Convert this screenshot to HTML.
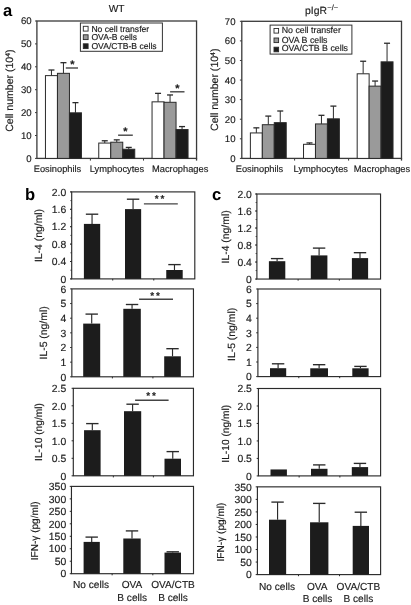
<!DOCTYPE html>
<html lang="en"><head><meta charset="utf-8"><title>Figure</title>
<style>
html,body{margin:0;padding:0;background:#fff;overflow:hidden}
svg{display:block;font-family:"Liberation Sans", Arial, Helvetica, sans-serif;fill:#1c1c1c;text-rendering:geometricPrecision}
text{stroke:#1c1c1c;stroke-width:0.16px;stroke-linejoin:round}
</style></head><body>
<svg width="411" height="605" viewBox="0 0 411 605">
<rect x="0" y="0" width="411" height="605" fill="#fff" stroke="none"/>
<rect x="36.9" y="21" width="159.65" height="137.4" fill="#fff" stroke="#3a3a3a" stroke-width="1.3"/>
<path d="M35 158.4L36.9 158.4" stroke="#3a3a3a" stroke-width="1"/>
<text x="31.6" y="161.85" font-size="9.6" text-anchor="end">0</text>
<path d="M35 135.5L36.9 135.5" stroke="#3a3a3a" stroke-width="1"/>
<text x="31.6" y="138.95" font-size="9.6" text-anchor="end">10</text>
<path d="M35 112.6L36.9 112.6" stroke="#3a3a3a" stroke-width="1"/>
<text x="31.6" y="116.05" font-size="9.6" text-anchor="end">20</text>
<path d="M35 89.7L36.9 89.7" stroke="#3a3a3a" stroke-width="1"/>
<text x="31.6" y="93.15" font-size="9.6" text-anchor="end">30</text>
<path d="M35 66.8L36.9 66.8" stroke="#3a3a3a" stroke-width="1"/>
<text x="31.6" y="70.25" font-size="9.6" text-anchor="end">40</text>
<path d="M35 43.9L36.9 43.9" stroke="#3a3a3a" stroke-width="1"/>
<text x="31.6" y="47.35" font-size="9.6" text-anchor="end">50</text>
<path d="M35 21L36.9 21" stroke="#3a3a3a" stroke-width="1"/>
<text x="31.6" y="24.45" font-size="9.6" text-anchor="end">60</text>
<path d="M90.4 158.4L90.4 160.6" stroke="#3a3a3a" stroke-width="1"/>
<path d="M143.5 158.4L143.5 160.6" stroke="#3a3a3a" stroke-width="1"/>
<path d="M196.55 158.4L196.55 160.6" stroke="#3a3a3a" stroke-width="1.3"/>
<path d="M51.45 70.01L51.45 75.62" stroke="#2a2a2a" stroke-width="1"/>
<path d="M48.45 70.01L54.45 70.01" stroke="#2a2a2a" stroke-width="1.3"/>
<path d="M63.45 62.68L63.45 73.33" stroke="#2a2a2a" stroke-width="1"/>
<path d="M60.45 62.68L66.45 62.68" stroke="#2a2a2a" stroke-width="1.3"/>
<path d="M75.45 102.64L75.45 112.83" stroke="#2a2a2a" stroke-width="1"/>
<path d="M72.45 102.64L78.45 102.64" stroke="#2a2a2a" stroke-width="1.3"/>
<rect x="45.45" y="75.62" width="12" height="82.78" fill="#fff" stroke="#2a2a2a" stroke-width="1"/>
<rect x="57.45" y="73.33" width="12" height="85.07" fill="#9a9a9a" stroke="#2a2a2a" stroke-width="1"/>
<rect x="69.45" y="112.83" width="12" height="45.57" fill="#1c1c1c" stroke="#2a2a2a" stroke-width="1"/>
<path d="M104.75 140.77L104.75 143.06" stroke="#2a2a2a" stroke-width="1"/>
<path d="M101.75 140.77L107.75 140.77" stroke="#2a2a2a" stroke-width="1.3"/>
<path d="M116.75 139.85L116.75 142.21" stroke="#2a2a2a" stroke-width="1"/>
<path d="M113.75 139.85L119.75 139.85" stroke="#2a2a2a" stroke-width="1.3"/>
<path d="M128.75 147.41L128.75 149.24" stroke="#2a2a2a" stroke-width="1"/>
<path d="M125.75 147.41L131.75 147.41" stroke="#2a2a2a" stroke-width="1.3"/>
<rect x="98.75" y="143.06" width="12" height="15.34" fill="#fff" stroke="#2a2a2a" stroke-width="1"/>
<rect x="110.75" y="142.21" width="12" height="16.19" fill="#9a9a9a" stroke="#2a2a2a" stroke-width="1"/>
<rect x="122.75" y="149.24" width="12" height="9.16" fill="#1c1c1c" stroke="#2a2a2a" stroke-width="1"/>
<path d="M158.05 93.36L158.05 101.84" stroke="#2a2a2a" stroke-width="1"/>
<path d="M155.05 93.36L161.05 93.36" stroke="#2a2a2a" stroke-width="1.3"/>
<path d="M170.05 94.97L170.05 102.3" stroke="#2a2a2a" stroke-width="1"/>
<path d="M167.05 94.97L173.05 94.97" stroke="#2a2a2a" stroke-width="1.3"/>
<path d="M182.05 126.57L182.05 129.55" stroke="#2a2a2a" stroke-width="1"/>
<path d="M179.05 126.57L185.05 126.57" stroke="#2a2a2a" stroke-width="1.3"/>
<rect x="152.05" y="101.84" width="12" height="56.56" fill="#fff" stroke="#2a2a2a" stroke-width="1"/>
<rect x="164.05" y="102.3" width="12" height="56.11" fill="#9a9a9a" stroke="#2a2a2a" stroke-width="1"/>
<rect x="176.05" y="129.55" width="12" height="28.85" fill="#1c1c1c" stroke="#2a2a2a" stroke-width="1"/>
<rect x="241.8" y="21.3" width="159.7" height="137.1" fill="#fff" stroke="#3a3a3a" stroke-width="1.3"/>
<path d="M239.9 158.4L241.8 158.4" stroke="#3a3a3a" stroke-width="1"/>
<text x="235.5" y="161.85" font-size="9.6" text-anchor="end">0</text>
<path d="M239.9 138.81L241.8 138.81" stroke="#3a3a3a" stroke-width="1"/>
<text x="235.5" y="142.26" font-size="9.6" text-anchor="end">10</text>
<path d="M239.9 119.23L241.8 119.23" stroke="#3a3a3a" stroke-width="1"/>
<text x="235.5" y="122.68" font-size="9.6" text-anchor="end">20</text>
<path d="M239.9 99.64L241.8 99.64" stroke="#3a3a3a" stroke-width="1"/>
<text x="235.5" y="103.09" font-size="9.6" text-anchor="end">30</text>
<path d="M239.9 80.06L241.8 80.06" stroke="#3a3a3a" stroke-width="1"/>
<text x="235.5" y="83.51" font-size="9.6" text-anchor="end">40</text>
<path d="M239.9 60.47L241.8 60.47" stroke="#3a3a3a" stroke-width="1"/>
<text x="235.5" y="63.92" font-size="9.6" text-anchor="end">50</text>
<path d="M239.9 40.89L241.8 40.89" stroke="#3a3a3a" stroke-width="1"/>
<text x="235.5" y="44.34" font-size="9.6" text-anchor="end">60</text>
<path d="M239.9 21.3L241.8 21.3" stroke="#3a3a3a" stroke-width="1"/>
<text x="235.5" y="24.75" font-size="9.6" text-anchor="end">70</text>
<path d="M294.6 158.4L294.6 160.6" stroke="#3a3a3a" stroke-width="1"/>
<path d="M348.6 158.4L348.6 160.6" stroke="#3a3a3a" stroke-width="1"/>
<path d="M401.5 158.4L401.5 160.6" stroke="#3a3a3a" stroke-width="1.3"/>
<path d="M256.35 127.85L256.35 132.94" stroke="#2a2a2a" stroke-width="1"/>
<path d="M253.35 127.85L259.35 127.85" stroke="#2a2a2a" stroke-width="1.3"/>
<path d="M268.3 116.09L268.3 124.71" stroke="#2a2a2a" stroke-width="1"/>
<path d="M265.3 116.09L271.3 116.09" stroke="#2a2a2a" stroke-width="1.3"/>
<path d="M280.25 111L280.25 122.66" stroke="#2a2a2a" stroke-width="1"/>
<path d="M277.25 111L283.25 111" stroke="#2a2a2a" stroke-width="1.3"/>
<rect x="250.38" y="132.94" width="11.95" height="25.46" fill="#fff" stroke="#2a2a2a" stroke-width="1"/>
<rect x="262.32" y="124.71" width="11.95" height="33.69" fill="#9a9a9a" stroke="#2a2a2a" stroke-width="1"/>
<rect x="274.27" y="122.66" width="11.95" height="35.74" fill="#1c1c1c" stroke="#2a2a2a" stroke-width="1"/>
<path d="M309.5 142.93L309.5 144.3" stroke="#2a2a2a" stroke-width="1"/>
<path d="M306.5 142.93L312.5 142.93" stroke="#2a2a2a" stroke-width="1.3"/>
<path d="M321.45 115.31L321.45 123.93" stroke="#2a2a2a" stroke-width="1"/>
<path d="M318.45 115.31L324.45 115.31" stroke="#2a2a2a" stroke-width="1.3"/>
<path d="M333.4 106.11L333.4 118.84" stroke="#2a2a2a" stroke-width="1"/>
<path d="M330.4 106.11L336.4 106.11" stroke="#2a2a2a" stroke-width="1.3"/>
<rect x="303.52" y="144.3" width="11.95" height="14.1" fill="#fff" stroke="#2a2a2a" stroke-width="1"/>
<rect x="315.47" y="123.93" width="11.95" height="34.47" fill="#9a9a9a" stroke="#2a2a2a" stroke-width="1"/>
<rect x="327.42" y="118.84" width="11.95" height="39.56" fill="#1c1c1c" stroke="#2a2a2a" stroke-width="1"/>
<path d="M363.15 61.25L363.15 73.79" stroke="#2a2a2a" stroke-width="1"/>
<path d="M360.15 61.25L366.15 61.25" stroke="#2a2a2a" stroke-width="1.3"/>
<path d="M375.1 81.04L375.1 86.13" stroke="#2a2a2a" stroke-width="1"/>
<path d="M372.1 81.04L378.1 81.04" stroke="#2a2a2a" stroke-width="1.3"/>
<path d="M387.05 43.24L387.05 61.84" stroke="#2a2a2a" stroke-width="1"/>
<path d="M384.05 43.24L390.05 43.24" stroke="#2a2a2a" stroke-width="1.3"/>
<rect x="357.18" y="73.79" width="11.95" height="84.61" fill="#fff" stroke="#2a2a2a" stroke-width="1"/>
<rect x="369.12" y="86.13" width="11.95" height="72.27" fill="#9a9a9a" stroke="#2a2a2a" stroke-width="1"/>
<rect x="381.07" y="61.84" width="11.95" height="96.56" fill="#1c1c1c" stroke="#2a2a2a" stroke-width="1"/>
<text x="116.65" y="12.3" font-size="10.2" text-anchor="middle">WT</text>
<text x="305" y="14" font-size="10.4">pIgR<tspan dy="-4.0" dx="0.3" font-size="7.5">−/−</tspan></text>
<text x="3" y="15.7" font-size="16.6" font-weight="bold" fill="#000" style="stroke:none">a</text>
<text transform="translate(13.2 90.65) rotate(-90)" font-size="10.55" text-anchor="middle">Cell number (10<tspan dy="-3.6" font-size="6.8">4</tspan><tspan dy="3.6">)</tspan></text>
<text transform="translate(218.3 89.75) rotate(-90)" font-size="10.55" text-anchor="middle">Cell number (10<tspan dy="-3.6" font-size="6.8">4</tspan><tspan dy="3.6">)</tspan></text>
<text x="57.5" y="172.2" font-size="9.3" text-anchor="middle">Eosinophils</text>
<text x="116.9" y="172.2" font-size="9.3" text-anchor="middle">Lymphocytes</text>
<text x="180.2" y="172.2" font-size="9.3" text-anchor="middle">Macrophages</text>
<text x="259.5" y="172.2" font-size="9.3" text-anchor="middle">Eosinophils</text>
<text x="320.8" y="172.2" font-size="9.3" text-anchor="middle">Lymphocytes</text>
<text x="382" y="172.2" font-size="9.3" text-anchor="middle">Macrophages</text>
<rect x="80.4" y="23" width="82" height="28.3" fill="#fff" stroke="#333" stroke-width="1"/>
<rect x="83.3" y="26.3" width="4.8" height="4.8" fill="#fff" stroke="#2a2a2a" stroke-width="0.9"/>
<text x="91.4" y="31.8" font-size="8.6">No cell transfer</text>
<rect x="83.3" y="34.8" width="4.8" height="4.8" fill="#9a9a9a" stroke="#2a2a2a" stroke-width="0.9"/>
<text x="91.4" y="40.3" font-size="8.6">OVA-B cells</text>
<rect x="83.3" y="43.8" width="4.8" height="4.8" fill="#1c1c1c" stroke="#2a2a2a" stroke-width="0.9"/>
<text x="91.4" y="49.3" font-size="8.6">OVA/CTB-B cells</text>
<rect x="270.1" y="25.1" width="81.8" height="29" fill="#fff" stroke="#333" stroke-width="1"/>
<rect x="274" y="28.5" width="4.6" height="4.6" fill="#fff" stroke="#2a2a2a" stroke-width="0.9"/>
<text x="281.7" y="32.9" font-size="8.8">No cell transfer</text>
<rect x="274" y="38" width="4.6" height="4.6" fill="#9a9a9a" stroke="#2a2a2a" stroke-width="0.9"/>
<text x="281.7" y="42.5" font-size="8.8">OVA B cells</text>
<rect x="274" y="47.2" width="4.6" height="4.6" fill="#1c1c1c" stroke="#2a2a2a" stroke-width="0.9"/>
<text x="281.7" y="51.4" font-size="8.8">OVA/CTB B cells</text>
<path d="M65.8 68L78 68" stroke="#444" stroke-width="1.4"/>
<text x="72.3" y="67.6" font-size="11" text-anchor="middle" font-weight="bold">*</text>
<path d="M118.1 135.2L132.8 135.2" stroke="#444" stroke-width="1.4"/>
<text x="125.3" y="135" font-size="11" text-anchor="middle" font-weight="bold">*</text>
<path d="M170.1 91.8L184.5 91.8" stroke="#444" stroke-width="1.4"/>
<text x="177.3" y="91.9" font-size="11" text-anchor="middle" font-weight="bold">*</text>
<rect x="71.7" y="191.9" width="123.1" height="87" fill="#fff" stroke="#2a2a2a" stroke-width="1.15"/>
<path d="M70 278.9L71.7 278.9" stroke="#2a2a2a" stroke-width="1"/>
<text x="66.2" y="282.6" font-size="10.4" text-anchor="end">0</text>
<path d="M70 261.5L71.7 261.5" stroke="#2a2a2a" stroke-width="1"/>
<text x="66.2" y="265.2" font-size="10.4" text-anchor="end">0.4</text>
<path d="M70 244.1L71.7 244.1" stroke="#2a2a2a" stroke-width="1"/>
<text x="66.2" y="247.8" font-size="10.4" text-anchor="end">0.8</text>
<path d="M70 226.7L71.7 226.7" stroke="#2a2a2a" stroke-width="1"/>
<text x="66.2" y="230.4" font-size="10.4" text-anchor="end">1.2</text>
<path d="M70 209.3L71.7 209.3" stroke="#2a2a2a" stroke-width="1"/>
<text x="66.2" y="213" font-size="10.4" text-anchor="end">1.6</text>
<path d="M70 191.9L71.7 191.9" stroke="#2a2a2a" stroke-width="1"/>
<text x="66.2" y="195.6" font-size="10.4" text-anchor="end">2.0</text>
<path d="M70.4 278.9L71.7 278.9" stroke="#2a2a2a" stroke-width="0.8"/>
<path d="M70.4 270.2L71.7 270.2" stroke="#2a2a2a" stroke-width="0.8"/>
<path d="M70.4 261.5L71.7 261.5" stroke="#2a2a2a" stroke-width="0.8"/>
<path d="M70.4 252.8L71.7 252.8" stroke="#2a2a2a" stroke-width="0.8"/>
<path d="M70.4 244.1L71.7 244.1" stroke="#2a2a2a" stroke-width="0.8"/>
<path d="M70.4 235.4L71.7 235.4" stroke="#2a2a2a" stroke-width="0.8"/>
<path d="M70.4 226.7L71.7 226.7" stroke="#2a2a2a" stroke-width="0.8"/>
<path d="M70.4 218L71.7 218" stroke="#2a2a2a" stroke-width="0.8"/>
<path d="M70.4 209.3L71.7 209.3" stroke="#2a2a2a" stroke-width="0.8"/>
<path d="M70.4 200.6L71.7 200.6" stroke="#2a2a2a" stroke-width="0.8"/>
<path d="M70.4 191.9L71.7 191.9" stroke="#2a2a2a" stroke-width="0.8"/>
<path d="M112.73 278.9L112.73 280.5" stroke="#2a2a2a" stroke-width="1"/>
<path d="M153.77 278.9L153.77 280.5" stroke="#2a2a2a" stroke-width="1"/>
<path d="M92.05 214.2L92.05 223.9" stroke="#2a2a2a" stroke-width="1.15"/>
<path d="M85.85 214.2L98.25 214.2" stroke="#2a2a2a" stroke-width="1.35"/>
<rect x="83.9" y="223.9" width="16.3" height="55" fill="#1c1c1c"/>
<path d="M133.07 199.2L133.07 209.1" stroke="#2a2a2a" stroke-width="1.15"/>
<path d="M126.87 199.2L139.27 199.2" stroke="#2a2a2a" stroke-width="1.35"/>
<rect x="125" y="209.1" width="16.15" height="69.8" fill="#1c1c1c"/>
<path d="M174.47 264.6L174.47 270" stroke="#2a2a2a" stroke-width="1.15"/>
<path d="M168.28 264.6L180.67 264.6" stroke="#2a2a2a" stroke-width="1.35"/>
<rect x="166.25" y="270" width="16.45" height="8.9" fill="#1c1c1c"/>
<text transform="translate(42.3 235.5) rotate(-90)" font-size="10.4" text-anchor="middle">IL-4 (ng/ml)</text>
<rect x="71.85" y="288.9" width="121.6" height="87.9" fill="#fff" stroke="#2a2a2a" stroke-width="1.15"/>
<path d="M70.15 376.8L71.85 376.8" stroke="#2a2a2a" stroke-width="1"/>
<text x="66.2" y="380.5" font-size="10.4" text-anchor="end">0</text>
<path d="M70.15 362.15L71.85 362.15" stroke="#2a2a2a" stroke-width="1"/>
<text x="66.2" y="365.85" font-size="10.4" text-anchor="end">1</text>
<path d="M70.15 347.5L71.85 347.5" stroke="#2a2a2a" stroke-width="1"/>
<text x="66.2" y="351.2" font-size="10.4" text-anchor="end">2</text>
<path d="M70.15 332.85L71.85 332.85" stroke="#2a2a2a" stroke-width="1"/>
<text x="66.2" y="336.55" font-size="10.4" text-anchor="end">3</text>
<path d="M70.15 318.2L71.85 318.2" stroke="#2a2a2a" stroke-width="1"/>
<text x="66.2" y="321.9" font-size="10.4" text-anchor="end">4</text>
<path d="M70.15 303.55L71.85 303.55" stroke="#2a2a2a" stroke-width="1"/>
<text x="66.2" y="307.25" font-size="10.4" text-anchor="end">5</text>
<path d="M70.15 288.9L71.85 288.9" stroke="#2a2a2a" stroke-width="1"/>
<text x="66.2" y="292.6" font-size="10.4" text-anchor="end">6</text>
<path d="M112.38 376.8L112.38 378.4" stroke="#2a2a2a" stroke-width="1"/>
<path d="M152.92 376.8L152.92 378.4" stroke="#2a2a2a" stroke-width="1"/>
<path d="M91.7 314.1L91.7 323.6" stroke="#2a2a2a" stroke-width="1.15"/>
<path d="M85.5 314.1L97.9 314.1" stroke="#2a2a2a" stroke-width="1.35"/>
<rect x="83.2" y="323.6" width="17" height="53.2" fill="#1c1c1c"/>
<path d="M132.05 304.5L132.05 308.8" stroke="#2a2a2a" stroke-width="1.15"/>
<path d="M125.85 304.5L138.25 304.5" stroke="#2a2a2a" stroke-width="1.35"/>
<rect x="123.3" y="308.8" width="17.5" height="68" fill="#1c1c1c"/>
<path d="M172.52 348.7L172.52 356.3" stroke="#2a2a2a" stroke-width="1.15"/>
<path d="M166.32 348.7L178.72 348.7" stroke="#2a2a2a" stroke-width="1.35"/>
<rect x="164.2" y="356.3" width="16.65" height="20.5" fill="#1c1c1c"/>
<text transform="translate(47.3 332.9) rotate(-90)" font-size="10.4" text-anchor="middle">IL-5 (ng/ml)</text>
<rect x="73.3" y="388.3" width="120.15" height="87.5" fill="#fff" stroke="#2a2a2a" stroke-width="1.15"/>
<path d="M71.6 475.8L73.3 475.8" stroke="#2a2a2a" stroke-width="1"/>
<text x="66.2" y="479.5" font-size="10.4" text-anchor="end">0</text>
<path d="M71.6 458.3L73.3 458.3" stroke="#2a2a2a" stroke-width="1"/>
<text x="66.2" y="462" font-size="10.4" text-anchor="end">0.5</text>
<path d="M71.6 440.8L73.3 440.8" stroke="#2a2a2a" stroke-width="1"/>
<text x="66.2" y="444.5" font-size="10.4" text-anchor="end">1.0</text>
<path d="M71.6 423.3L73.3 423.3" stroke="#2a2a2a" stroke-width="1"/>
<text x="66.2" y="427" font-size="10.4" text-anchor="end">1.5</text>
<path d="M71.6 405.8L73.3 405.8" stroke="#2a2a2a" stroke-width="1"/>
<text x="66.2" y="409.5" font-size="10.4" text-anchor="end">2.0</text>
<path d="M71.6 388.3L73.3 388.3" stroke="#2a2a2a" stroke-width="1"/>
<text x="66.2" y="392" font-size="10.4" text-anchor="end">2.5</text>
<path d="M113.35 475.8L113.35 477.4" stroke="#2a2a2a" stroke-width="1"/>
<path d="M153.4 475.8L153.4 477.4" stroke="#2a2a2a" stroke-width="1"/>
<path d="M92.32 423.6L92.32 430.2" stroke="#2a2a2a" stroke-width="1.15"/>
<path d="M86.12 423.6L98.52 423.6" stroke="#2a2a2a" stroke-width="1.35"/>
<rect x="84.05" y="430.2" width="16.55" height="45.6" fill="#1c1c1c"/>
<path d="M132.6 404.2L132.6 411.2" stroke="#2a2a2a" stroke-width="1.15"/>
<path d="M126.4 404.2L138.8 404.2" stroke="#2a2a2a" stroke-width="1.35"/>
<rect x="124" y="411.2" width="17.2" height="64.6" fill="#1c1c1c"/>
<path d="M172.75 451.6L172.75 458.7" stroke="#2a2a2a" stroke-width="1.15"/>
<path d="M166.55 451.6L178.95 451.6" stroke="#2a2a2a" stroke-width="1.35"/>
<rect x="164.5" y="458.7" width="16.5" height="17.1" fill="#1c1c1c"/>
<text transform="translate(41.7 432) rotate(-90)" font-size="10.2" text-anchor="middle">IL-10 (ng/ml)</text>
<rect x="71.45" y="486.4" width="122.05" height="87.3" fill="#fff" stroke="#2a2a2a" stroke-width="1.15"/>
<path d="M69.75 573.7L71.45 573.7" stroke="#2a2a2a" stroke-width="1"/>
<text x="66.2" y="577.4" font-size="10.4" text-anchor="end">0</text>
<path d="M69.75 561.23L71.45 561.23" stroke="#2a2a2a" stroke-width="1"/>
<text x="66.2" y="564.93" font-size="10.4" text-anchor="end">50</text>
<path d="M69.75 548.76L71.45 548.76" stroke="#2a2a2a" stroke-width="1"/>
<text x="66.2" y="552.46" font-size="10.4" text-anchor="end">100</text>
<path d="M69.75 536.29L71.45 536.29" stroke="#2a2a2a" stroke-width="1"/>
<text x="66.2" y="539.99" font-size="10.4" text-anchor="end">150</text>
<path d="M69.75 523.81L71.45 523.81" stroke="#2a2a2a" stroke-width="1"/>
<text x="66.2" y="527.51" font-size="10.4" text-anchor="end">200</text>
<path d="M69.75 511.34L71.45 511.34" stroke="#2a2a2a" stroke-width="1"/>
<text x="66.2" y="515.04" font-size="10.4" text-anchor="end">250</text>
<path d="M69.75 498.87L71.45 498.87" stroke="#2a2a2a" stroke-width="1"/>
<text x="66.2" y="502.57" font-size="10.4" text-anchor="end">300</text>
<path d="M69.75 486.4L71.45 486.4" stroke="#2a2a2a" stroke-width="1"/>
<text x="66.2" y="490.1" font-size="10.4" text-anchor="end">350</text>
<path d="M112.13 573.7L112.13 575.3" stroke="#2a2a2a" stroke-width="1"/>
<path d="M152.82 573.7L152.82 575.3" stroke="#2a2a2a" stroke-width="1"/>
<path d="M91.7 537.1L91.7 541.9" stroke="#2a2a2a" stroke-width="1.15"/>
<path d="M85.5 537.1L97.9 537.1" stroke="#2a2a2a" stroke-width="1.35"/>
<rect x="83.6" y="541.9" width="16.2" height="31.8" fill="#1c1c1c"/>
<path d="M132 530.9L132 538.5" stroke="#2a2a2a" stroke-width="1.15"/>
<path d="M125.8 530.9L138.2 530.9" stroke="#2a2a2a" stroke-width="1.35"/>
<rect x="123.3" y="538.5" width="17.4" height="35.2" fill="#1c1c1c"/>
<path d="M172.75 551.8L172.75 552.6" stroke="#2a2a2a" stroke-width="1.15"/>
<path d="M166.55 551.8L178.95 551.8" stroke="#2a2a2a" stroke-width="1.35"/>
<rect x="164.5" y="552.6" width="16.5" height="21.1" fill="#1c1c1c"/>
<text transform="translate(38 530.9) rotate(-90)" font-size="10.1" text-anchor="middle">IFN-γ (pg/ml)</text>
<rect x="256.9" y="194" width="123.65" height="85.05" fill="#fff" stroke="#2a2a2a" stroke-width="1.15"/>
<path d="M255.2 279.05L256.9 279.05" stroke="#2a2a2a" stroke-width="1"/>
<text x="251.9" y="282.75" font-size="10.4" text-anchor="end">0</text>
<path d="M255.2 262.04L256.9 262.04" stroke="#2a2a2a" stroke-width="1"/>
<text x="251.9" y="265.74" font-size="10.4" text-anchor="end">0.4</text>
<path d="M255.2 245.03L256.9 245.03" stroke="#2a2a2a" stroke-width="1"/>
<text x="251.9" y="248.73" font-size="10.4" text-anchor="end">0.8</text>
<path d="M255.2 228.02L256.9 228.02" stroke="#2a2a2a" stroke-width="1"/>
<text x="251.9" y="231.72" font-size="10.4" text-anchor="end">1.2</text>
<path d="M255.2 211.01L256.9 211.01" stroke="#2a2a2a" stroke-width="1"/>
<text x="251.9" y="214.71" font-size="10.4" text-anchor="end">1.6</text>
<path d="M255.2 194L256.9 194" stroke="#2a2a2a" stroke-width="1"/>
<text x="251.9" y="197.7" font-size="10.4" text-anchor="end">2.0</text>
<path d="M255.6 279.05L256.9 279.05" stroke="#2a2a2a" stroke-width="0.8"/>
<path d="M255.6 270.55L256.9 270.55" stroke="#2a2a2a" stroke-width="0.8"/>
<path d="M255.6 262.04L256.9 262.04" stroke="#2a2a2a" stroke-width="0.8"/>
<path d="M255.6 253.53L256.9 253.53" stroke="#2a2a2a" stroke-width="0.8"/>
<path d="M255.6 245.03L256.9 245.03" stroke="#2a2a2a" stroke-width="0.8"/>
<path d="M255.6 236.53L256.9 236.53" stroke="#2a2a2a" stroke-width="0.8"/>
<path d="M255.6 228.02L256.9 228.02" stroke="#2a2a2a" stroke-width="0.8"/>
<path d="M255.6 219.51L256.9 219.51" stroke="#2a2a2a" stroke-width="0.8"/>
<path d="M255.6 211.01L256.9 211.01" stroke="#2a2a2a" stroke-width="0.8"/>
<path d="M255.6 202.5L256.9 202.5" stroke="#2a2a2a" stroke-width="0.8"/>
<path d="M255.6 194L256.9 194" stroke="#2a2a2a" stroke-width="0.8"/>
<path d="M298.12 279.05L298.12 280.65" stroke="#2a2a2a" stroke-width="1"/>
<path d="M339.33 279.05L339.33 280.65" stroke="#2a2a2a" stroke-width="1"/>
<path d="M277.1 258.6L277.1 261.2" stroke="#2a2a2a" stroke-width="1.15"/>
<path d="M270.9 258.6L283.3 258.6" stroke="#2a2a2a" stroke-width="1.35"/>
<rect x="268.9" y="261.2" width="16.4" height="17.85" fill="#1c1c1c"/>
<path d="M319.1 248.1L319.1 255.4" stroke="#2a2a2a" stroke-width="1.15"/>
<path d="M312.9 248.1L325.3 248.1" stroke="#2a2a2a" stroke-width="1.35"/>
<rect x="310.8" y="255.4" width="16.6" height="23.65" fill="#1c1c1c"/>
<path d="M360 252.7L360 258.1" stroke="#2a2a2a" stroke-width="1.15"/>
<path d="M353.8 252.7L366.2 252.7" stroke="#2a2a2a" stroke-width="1.35"/>
<rect x="351.9" y="258.1" width="16.2" height="20.95" fill="#1c1c1c"/>
<text transform="translate(229.3 236.9) rotate(-90)" font-size="10.4" text-anchor="middle">IL-4 (ng/ml)</text>
<rect x="257.9" y="289" width="122.7" height="87.6" fill="#fff" stroke="#2a2a2a" stroke-width="1.15"/>
<path d="M256.2 376.6L257.9 376.6" stroke="#2a2a2a" stroke-width="1"/>
<text x="251.9" y="380.3" font-size="10.4" text-anchor="end">0</text>
<path d="M256.2 362L257.9 362" stroke="#2a2a2a" stroke-width="1"/>
<text x="251.9" y="365.7" font-size="10.4" text-anchor="end">1</text>
<path d="M256.2 347.4L257.9 347.4" stroke="#2a2a2a" stroke-width="1"/>
<text x="251.9" y="351.1" font-size="10.4" text-anchor="end">2</text>
<path d="M256.2 332.8L257.9 332.8" stroke="#2a2a2a" stroke-width="1"/>
<text x="251.9" y="336.5" font-size="10.4" text-anchor="end">3</text>
<path d="M256.2 318.2L257.9 318.2" stroke="#2a2a2a" stroke-width="1"/>
<text x="251.9" y="321.9" font-size="10.4" text-anchor="end">4</text>
<path d="M256.2 303.6L257.9 303.6" stroke="#2a2a2a" stroke-width="1"/>
<text x="251.9" y="307.3" font-size="10.4" text-anchor="end">5</text>
<path d="M256.2 289L257.9 289" stroke="#2a2a2a" stroke-width="1"/>
<text x="251.9" y="292.7" font-size="10.4" text-anchor="end">6</text>
<path d="M298.8 376.6L298.8 378.2" stroke="#2a2a2a" stroke-width="1"/>
<path d="M339.7 376.6L339.7 378.2" stroke="#2a2a2a" stroke-width="1"/>
<path d="M278.1 363.8L278.1 368.2" stroke="#2a2a2a" stroke-width="1.15"/>
<path d="M271.9 363.8L284.3 363.8" stroke="#2a2a2a" stroke-width="1.35"/>
<rect x="270" y="368.2" width="16.2" height="8.4" fill="#1c1c1c"/>
<path d="M319.12 364.7L319.12 368.3" stroke="#2a2a2a" stroke-width="1.15"/>
<path d="M312.93 364.7L325.32 364.7" stroke="#2a2a2a" stroke-width="1.35"/>
<rect x="310.25" y="368.3" width="17.75" height="8.3" fill="#1c1c1c"/>
<path d="M360.45 366.4L360.45 368.3" stroke="#2a2a2a" stroke-width="1.15"/>
<path d="M354.25 366.4L366.65 366.4" stroke="#2a2a2a" stroke-width="1.35"/>
<rect x="352.3" y="368.3" width="16.3" height="8.3" fill="#1c1c1c"/>
<text transform="translate(234.6 334.4) rotate(-90)" font-size="10.4" text-anchor="middle">IL-5 (ng/ml)</text>
<rect x="258.4" y="388.5" width="122.2" height="87.4" fill="#fff" stroke="#2a2a2a" stroke-width="1.15"/>
<path d="M256.7 475.9L258.4 475.9" stroke="#2a2a2a" stroke-width="1"/>
<text x="251.9" y="479.6" font-size="10.4" text-anchor="end">0</text>
<path d="M256.7 458.42L258.4 458.42" stroke="#2a2a2a" stroke-width="1"/>
<text x="251.9" y="462.12" font-size="10.4" text-anchor="end">0.5</text>
<path d="M256.7 440.94L258.4 440.94" stroke="#2a2a2a" stroke-width="1"/>
<text x="251.9" y="444.64" font-size="10.4" text-anchor="end">1.0</text>
<path d="M256.7 423.46L258.4 423.46" stroke="#2a2a2a" stroke-width="1"/>
<text x="251.9" y="427.16" font-size="10.4" text-anchor="end">1.5</text>
<path d="M256.7 405.98L258.4 405.98" stroke="#2a2a2a" stroke-width="1"/>
<text x="251.9" y="409.68" font-size="10.4" text-anchor="end">2.0</text>
<path d="M256.7 388.5L258.4 388.5" stroke="#2a2a2a" stroke-width="1"/>
<text x="251.9" y="392.2" font-size="10.4" text-anchor="end">2.5</text>
<path d="M299.13 475.9L299.13 477.5" stroke="#2a2a2a" stroke-width="1"/>
<path d="M339.87 475.9L339.87 477.5" stroke="#2a2a2a" stroke-width="1"/>
<rect x="270.5" y="469.45" width="16.4" height="6.45" fill="#1c1c1c"/>
<path d="M319.25 464.9L319.25 468.8" stroke="#2a2a2a" stroke-width="1.15"/>
<path d="M313.05 464.9L325.45 464.9" stroke="#2a2a2a" stroke-width="1.35"/>
<rect x="311" y="468.8" width="16.5" height="7.1" fill="#1c1c1c"/>
<path d="M359.95 463.4L359.95 467.1" stroke="#2a2a2a" stroke-width="1.15"/>
<path d="M353.75 463.4L366.15 463.4" stroke="#2a2a2a" stroke-width="1.35"/>
<rect x="351.8" y="467.1" width="16.3" height="8.8" fill="#1c1c1c"/>
<text transform="translate(229.1 433.8) rotate(-90)" font-size="10.2" text-anchor="middle">IL-10 (ng/ml)</text>
<rect x="257.4" y="486.85" width="123.2" height="87.75" fill="#fff" stroke="#2a2a2a" stroke-width="1.15"/>
<path d="M255.7 574.6L257.4 574.6" stroke="#2a2a2a" stroke-width="1"/>
<text x="251.9" y="578.3" font-size="10.4" text-anchor="end">0</text>
<path d="M255.7 562.06L257.4 562.06" stroke="#2a2a2a" stroke-width="1"/>
<text x="251.9" y="565.76" font-size="10.4" text-anchor="end">50</text>
<path d="M255.7 549.53L257.4 549.53" stroke="#2a2a2a" stroke-width="1"/>
<text x="251.9" y="553.23" font-size="10.4" text-anchor="end">100</text>
<path d="M255.7 536.99L257.4 536.99" stroke="#2a2a2a" stroke-width="1"/>
<text x="251.9" y="540.69" font-size="10.4" text-anchor="end">150</text>
<path d="M255.7 524.46L257.4 524.46" stroke="#2a2a2a" stroke-width="1"/>
<text x="251.9" y="528.16" font-size="10.4" text-anchor="end">200</text>
<path d="M255.7 511.92L257.4 511.92" stroke="#2a2a2a" stroke-width="1"/>
<text x="251.9" y="515.62" font-size="10.4" text-anchor="end">250</text>
<path d="M255.7 499.39L257.4 499.39" stroke="#2a2a2a" stroke-width="1"/>
<text x="251.9" y="503.09" font-size="10.4" text-anchor="end">300</text>
<path d="M255.7 486.85L257.4 486.85" stroke="#2a2a2a" stroke-width="1"/>
<text x="251.9" y="490.55" font-size="10.4" text-anchor="end">350</text>
<path d="M298.47 574.6L298.47 576.2" stroke="#2a2a2a" stroke-width="1"/>
<path d="M339.53 574.6L339.53 576.2" stroke="#2a2a2a" stroke-width="1"/>
<path d="M277.57 502.1L277.57 519.7" stroke="#2a2a2a" stroke-width="1.15"/>
<path d="M271.38 502.1L283.77 502.1" stroke="#2a2a2a" stroke-width="1.35"/>
<rect x="269" y="519.7" width="17.15" height="54.9" fill="#1c1c1c"/>
<path d="M319.23 503.4L319.23 522.3" stroke="#2a2a2a" stroke-width="1.15"/>
<path d="M313.03 503.4L325.43 503.4" stroke="#2a2a2a" stroke-width="1.35"/>
<rect x="310.05" y="522.3" width="18.35" height="52.3" fill="#1c1c1c"/>
<path d="M360.85 512.2L360.85 525.9" stroke="#2a2a2a" stroke-width="1.15"/>
<path d="M354.65 512.2L367.05 512.2" stroke="#2a2a2a" stroke-width="1.35"/>
<rect x="352.7" y="525.9" width="16.3" height="48.7" fill="#1c1c1c"/>
<text transform="translate(223.8 532) rotate(-90)" font-size="10.1" text-anchor="middle">IFN-γ (pg/ml)</text>
<text x="24.9" y="200.1" font-size="16.6" font-weight="bold" fill="#000" style="stroke:none">b</text>
<text x="212" y="200.3" font-size="16.6" font-weight="bold" fill="#000" style="stroke:none">c</text>
<path d="M143.9 203.9L177.8 203.9" stroke="#444" stroke-width="1.4"/>
<text x="160.6" y="201.6" font-size="10" text-anchor="middle" font-weight="bold" letter-spacing="1.9">**</text>
<path d="M139.1 299.2L173 299.2" stroke="#444" stroke-width="1.4"/>
<text x="156.05" y="298.65" font-size="10" text-anchor="middle" font-weight="bold" letter-spacing="1.9">**</text>
<path d="M135.1 400.2L168.6 400.2" stroke="#444" stroke-width="1.4"/>
<text x="152.05" y="399.3" font-size="10" text-anchor="middle" font-weight="bold" letter-spacing="1.9">**</text>
<text x="91" y="588.1" font-size="10.1" text-anchor="middle">No cells</text>
<text x="132" y="588.1" font-size="10.1" text-anchor="middle">OVA</text>
<text x="132.2" y="600.6" font-size="10.1" text-anchor="middle">B cells</text>
<text x="173" y="588.1" font-size="10.1" text-anchor="middle">OVA/CTB</text>
<text x="173" y="600.6" font-size="10.1" text-anchor="middle">B cells</text>
<text x="277" y="590.2" font-size="10.1" text-anchor="middle">No cells</text>
<text x="317.3" y="590.2" font-size="10.1" text-anchor="middle">OVA</text>
<text x="317.5" y="601.7" font-size="10.1" text-anchor="middle">B cells</text>
<text x="358.4" y="590.2" font-size="10.1" text-anchor="middle">OVA/CTB</text>
<text x="358.4" y="601.7" font-size="10.1" text-anchor="middle">B cells</text>
</svg>
</body></html>
